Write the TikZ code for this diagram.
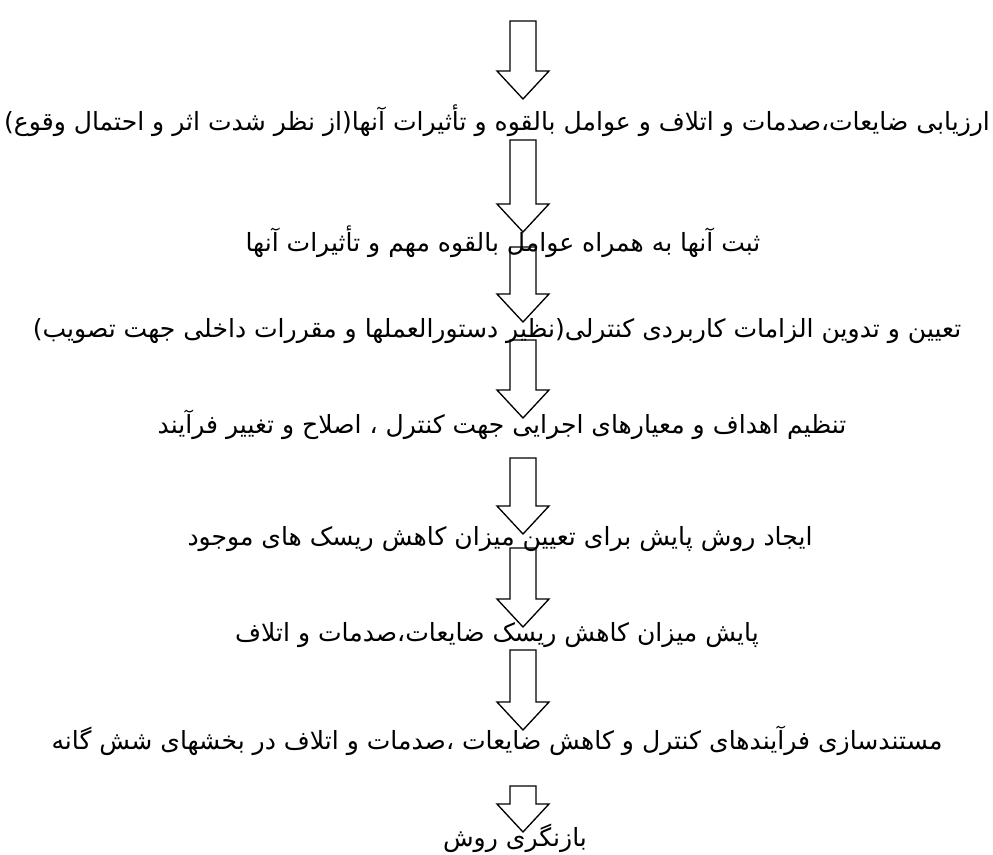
\documentclass[tikz,border=0pt]{standalone}
\usepackage{fontspec}
\usetikzlibrary{calc}
\newfontfamily\arabicfont[Script=Arabic]{DejaVu Sans}
\TeXXeTstate=1

% hollow block arrow from a top point down to its tip
\newcommand{\blockarrow}[2]{%
  \draw[line width=1pt] ($(#1)+(-13,0)$) -- ($(#2)+(-13,-28)$) -- ($(#2)+(-26,-28)$) -- (#2)
    -- ($(#2)+(26,-28)$) -- ($(#2)+(13,-28)$) -- ($(#1)+(13,0)$) -- cycle;}

\begin{document}
\begin{tikzpicture}[x=0.75pt,y=-0.75pt,
    stage/.style={font=\arabicfont\fontsize{18.8}{22}\selectfont, inner sep=0pt}]

    % frame of the picture, origin at top left
    \useasboundingbox (0,0) rectangle (993,854);

    % The steps, one under the other
    \node[stage] (S1) at (497,121) {\beginR ارزیابی ضایعات،صدمات و اتلاف و عوامل بالقوه و تأثیرات آنها(از نظر شدت اثر و احتمال وقوع)\endR};
    \node[stage] (S2) at (503,242) {\beginR ثبت آنها به همراه عوامل بالقوه مهم و تأثیرات آنها\endR};
    \node[stage] (S3) at (497,331) {\beginR تعیین و تدوین الزامات کاربردی کنترلی(نظیر دستورالعملها و مقررات داخلی جهت تصویب)\endR};
    \node[stage] (S4) at (502,425) {\beginR تنظیم اهداف و معیارهای اجرایی جهت کنترل ، اصلاح و تغییر فرآیند\endR};
    \node[stage] (S5) at (500,539) {\beginR ایجاد روش پایش برای تعیین میزان کاهش ریسک های موجود\endR};
    \node[stage] (S6) at (497,635) {\beginR پایش میزان کاهش ریسک ضایعات،صدمات و اتلاف\endR};
    \node[stage] (S7) at (497,741) {\beginR مستندسازی فرآیندهای کنترل و کاهش ضایعات ،صدمات و اتلاف در بخشهای شش گانه\endR};
    \node[stage] (S8) at (515,838) {\beginR بازنگری روش\endR};

    % Top and tip of every arrow
    \coordinate (T1) at (523,21);   \coordinate (P1) at (523,99);
    \coordinate (T2) at (523,140);  \coordinate (P2) at (523,232);
    \coordinate (T3) at (523,247);  \coordinate (P3) at (523,322);
    \coordinate (T4) at (523,340);  \coordinate (P4) at (523,418);
    \coordinate (T5) at (523,458);  \coordinate (P5) at (523,534);
    \coordinate (T6) at (523,548);  \coordinate (P6) at (523,627);
    \coordinate (T7) at (523,650);  \coordinate (P7) at (523,730);
    \coordinate (T8) at (523,786);  \coordinate (P8) at (523,832);

    % Draw the arrows
    \blockarrow{T1}{P1}
    \blockarrow{T2}{P2}
    \blockarrow{T3}{P3}
    \blockarrow{T4}{P4}
    \blockarrow{T5}{P5}
    \blockarrow{T6}{P6}
    \blockarrow{T7}{P7}
    \blockarrow{T8}{P8}

\end{tikzpicture}
\end{document}
